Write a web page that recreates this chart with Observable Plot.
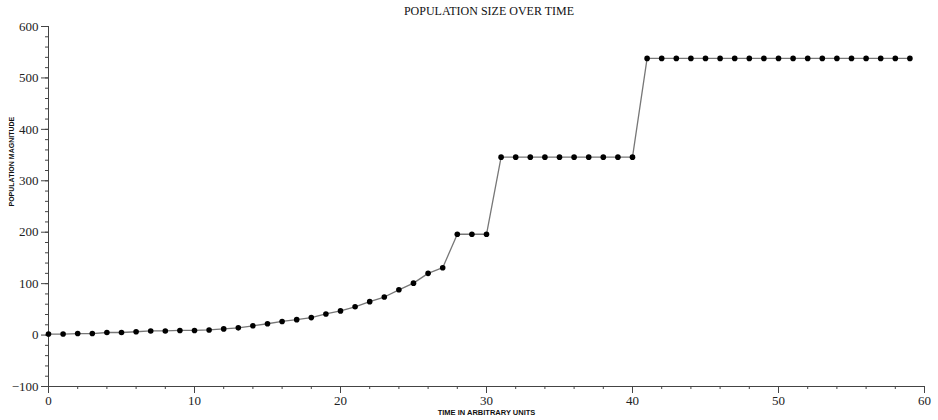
<!DOCTYPE html>
<html><head><meta charset="utf-8">
<script src="https://cdn.jsdelivr.net/npm/d3@7"></script>
<script src="https://cdn.jsdelivr.net/npm/@observablehq/plot@0.6"></script>
<style>
body{margin:0;background:#fff;}
#title{font-family:"Liberation Serif",serif;font-size:12px;height:20px;line-height:23px;text-align:center;padding-left:40px;color:#111;}
</style></head><body>
<div id="title">POPULATION SIZE OVER TIME</div>
<div id="chart"></div>
<script>
const time = [0,1,2,3,4,5,6,7,8,9,10,11,12,13,14,15,16,17,18,19,20,21,22,23,24,25,26,27,28,29,30,31,32,33,34,35,36,37,38,39,40,41,42,43,44,45,46,47,48,49,50,51,52,53,54,55,56,57,58,59];
const population = [2,2,3,3,5,5,6.5,8,8,9,9,10,12,14,18,22,26.5,30,34,41,47,55,65,74,88,101,120,131,196,196,196,346,346,346,346,346,346,346,346,346,346,538,538,538,538,538,538,538,538,538,538,538,538,538,538,538,538,538,538,538];
const xMajorTicks = [0,10,20,30,40,50,60];
const xMinorTicks = [0,2,4,6,8,10,12,14,16,18,20,22,24,26,28,30,32,34,36,38,40,42,44,46,48,50,52,54,56,58,60];
const yMajorTicks = [-100,0,100,200,300,400,500,600];
const yMinorTicks = [-100,-80,-60,-40,-20,0,20,40,60,80,100,120,140,160,180,200,220,240,260,280,300,320,340,360,380,400,420,440,460,480,500,520,540,560,580,600];
const xLabel = "TIME IN ARBITRARY UNITS";
const yLabel = "POPULATION MAGNITUDE";

const data = time.map((t, i) => ({t, p: population[i]}));
const axisColor = "#444";
const chart = Plot.plot({
  width: 938, height: 400,
  marginTop: 6, marginBottom: 34, marginLeft: 48, marginRight: 14,
  style: {fontFamily: "'Liberation Serif', serif", fontSize: "13px", background: "white", color: "#222"},
  x: {domain: [0, 60]},
  y: {domain: [-100, 600]},
  marks: [
    Plot.axisY(yMinorTicks, {tickSize: 3, tickFormat: () => "", label: null, stroke: axisColor}),
    Plot.axisY(yMajorTicks, {tickSize: 7, tickPadding: 3, label: null, stroke: axisColor}),
    Plot.axisX(xMinorTicks, {tickSize: 3, tickFormat: () => "", label: null, stroke: axisColor}),
    Plot.axisX(xMajorTicks, {tickSize: 7, tickPadding: 2, label: null, stroke: axisColor}),
    Plot.ruleX([0], {y1: -100, y2: 600, stroke: axisColor}),
    Plot.ruleY([-100], {x1: 0, x2: 60, stroke: axisColor}),
    Plot.line(data, {x: "t", y: "p", stroke: "#777", strokeWidth: 1.3}),
    Plot.dot(data, {x: "t", y: "p", r: 2.8, fill: "#000", stroke: "none"}),
    Plot.text([yLabel], {frameAnchor: "left", dx: -37, rotate: -90, fontFamily: "'Liberation Sans', sans-serif", fontWeight: "bold", fontSize: 7, fill: "#111"}),
    Plot.text([xLabel], {frameAnchor: "bottom", dy: 28, dx: 0, fontFamily: "'Liberation Sans', sans-serif", fontWeight: "bold", fontSize: 7.5, fill: "#111"})
  ]
});
document.getElementById("chart").append(chart);
</script>
</body></html>
